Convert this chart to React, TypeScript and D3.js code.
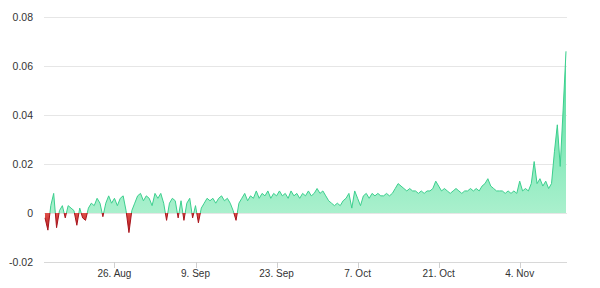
import React from "react";
import * as d3 from "d3";

const startDate = new Date(2023, 7, 14, 0, 0);
const stepHours = 12;

const values: number[] = [
  -0.002, -0.007, 0.003, 0.008, -0.006, 0.001, 0.003, -0.002, 0.003, 0.002,
  0.001, -0.005, 0.002, -0.002, -0.003, 0.002, 0.004, 0.003, 0.006, 0.004,
  -0.0015, 0.004, 0.007, 0.004, 0.006, 0.003, 0.006, 0.007, 0.001, -0.008,
  0.001, 0.004, 0.007, 0.008, 0.005, 0.007, 0.006, 0.003, 0.008, 0.006,
  0.008, 0.004, -0.003, 0.004, 0.006, 0.005, -0.002, 0.005, -0.003, 0.004,
  0.006, -0.002, 0.003, -0.004, 0.002, 0.004, 0.006, 0.005, 0.006, 0.004,
  0.006, 0.007, 0.005, 0.006, 0.004, 0.001, -0.003, 0.004, 0.006, 0.008,
  0.005, 0.007, 0.006, 0.009, 0.006, 0.008, 0.007, 0.009, 0.006, 0.008,
  0.007, 0.009, 0.007, 0.008, 0.006, 0.009, 0.007, 0.008, 0.006, 0.008,
  0.007, 0.009, 0.007, 0.008, 0.010, 0.008, 0.009, 0.007, 0.005, 0.004,
  0.003, 0.004, 0.003, 0.005, 0.006, 0.008, 0.002, 0.009, 0.006, 0.003,
  0.007, 0.008, 0.006, 0.008, 0.007, 0.008, 0.007, 0.007, 0.008, 0.007,
  0.008, 0.010, 0.012, 0.011, 0.010, 0.009, 0.010, 0.009, 0.009, 0.008,
  0.009, 0.008, 0.009, 0.009, 0.010, 0.013, 0.011, 0.009, 0.010, 0.009,
  0.008, 0.009, 0.010, 0.009, 0.008, 0.009, 0.009, 0.010, 0.009, 0.010,
  0.009, 0.011, 0.012, 0.014, 0.011, 0.010, 0.009, 0.009, 0.009, 0.008,
  0.009, 0.008, 0.009, 0.008, 0.013, 0.009, 0.010, 0.009, 0.012, 0.021,
  0.012, 0.014, 0.011, 0.013, 0.010, 0.012, 0.025, 0.036, 0.019, 0.042,
  0.066,
];

const yTicks: number[] = [-0.02, 0, 0.02, 0.04, 0.06, 0.08];
const yTickLabels: string[] = ["-0.02", "0", "0.02", "0.04", "0.06", "0.08"];
const xTickDates: Date[] = [
  new Date(2023, 7, 26),
  new Date(2023, 8, 9),
  new Date(2023, 8, 23),
  new Date(2023, 9, 7),
  new Date(2023, 9, 21),
  new Date(2023, 10, 4),
];
const xTickLabels: string[] = ["26. Aug", "9. Sep", "23. Sep", "7. Oct", "21. Oct", "4. Nov"];

type Pt = { t: Date; v: number };
const data: Pt[] = values.map((v, i) => ({
  t: new Date(startDate.getTime() + i * stepHours * 3600 * 1000),
  v,
}));

export default function App() {
  const W = 600;
  const H = 288;
  const left = 45;
  const right = 566;
  const top = 17;
  const bottom = 262;

  const x = d3
    .scaleTime()
    .domain([data[0].t, data[data.length - 1].t])
    .range([left, right]);
  const y = d3.scaleLinear().domain([-0.02, 0.08]).range([bottom, top]);
  const y0 = y(0);

  const area = d3
    .area<Pt>()
    .x((d) => x(d.t))
    .y0(y0)
    .y1((d) => y(d.v));
  const line = d3
    .line<Pt>()
    .x((d) => x(d.t))
    .y((d) => y(d.v));

  const areaPath = area(data) || "";
  const linePath = line(data) || "";
  const font = "'Liberation Sans', Arial, sans-serif";

  return (
    <svg
      width={W}
      height={H}
      style={{ position: "absolute", left: 0, top: 0, background: "#fff" }}
    >
      <defs>
        <linearGradient id="gPos" gradientUnits="userSpaceOnUse" x1="0" y1={top} x2="0" y2={y0}>
          <stop offset="0" stopColor="#3ad68e" />
          <stop offset="0.75" stopColor="#8eebbf" />
          <stop offset="1" stopColor="#aaf0cd" />
        </linearGradient>
        <linearGradient id="gNeg" gradientUnits="userSpaceOnUse" x1="0" y1={y0} x2="0" y2={y(-0.008)}>
          <stop offset="0" stopColor="#e0524a" />
          <stop offset="1" stopColor="#b0141a" />
        </linearGradient>
        <clipPath id="cPos">
          <rect x={0} y={0} width={W} height={y0} />
        </clipPath>
        <clipPath id="cNeg">
          <rect x={0} y={y0} width={W} height={H - y0} />
        </clipPath>
      </defs>

      {yTicks.map((t, i) => (
        <g key={"y" + i}>
          <line
            x1={left - 1}
            x2={right + 1}
            y1={Math.round(y(t)) + 0.5}
            y2={Math.round(y(t)) + 0.5}
            stroke={i === 0 ? "#d8d8d8" : "#e6e6e6"}
            strokeWidth={1}
          />
          <text
            x={33}
            y={y(t) + 3.5}
            textAnchor="end"
            fontFamily={font}
            fontSize={10.5}
            fill="#333"
          >
            {yTickLabels[i]}
          </text>
        </g>
      ))}

      {xTickDates.map((d, i) => (
        <g key={"x" + i}>
          <line
            x1={Math.round(x(d)) + 0.5}
            x2={Math.round(x(d)) + 0.5}
            y1={bottom}
            y2={bottom + 6}
            stroke="#d0d0d0"
            strokeWidth={1}
          />
          <text
            x={x(d)}
            y={277}
            textAnchor="middle"
            fontFamily={font}
            fontSize={10}
            fill="#333"
          >
            {xTickLabels[i]}
          </text>
        </g>
      ))}

      <g clipPath="url(#cPos)">
        <path d={areaPath} fill="url(#gPos)" />
        <path d={linePath} fill="none" stroke="#3ccf8e" strokeWidth={1} />
      </g>
      <g clipPath="url(#cNeg)">
        <path d={areaPath} fill="url(#gNeg)" />
        <path d={linePath} fill="none" stroke="#a8141c" strokeWidth={1} />
      </g>
    </svg>
  );
}
